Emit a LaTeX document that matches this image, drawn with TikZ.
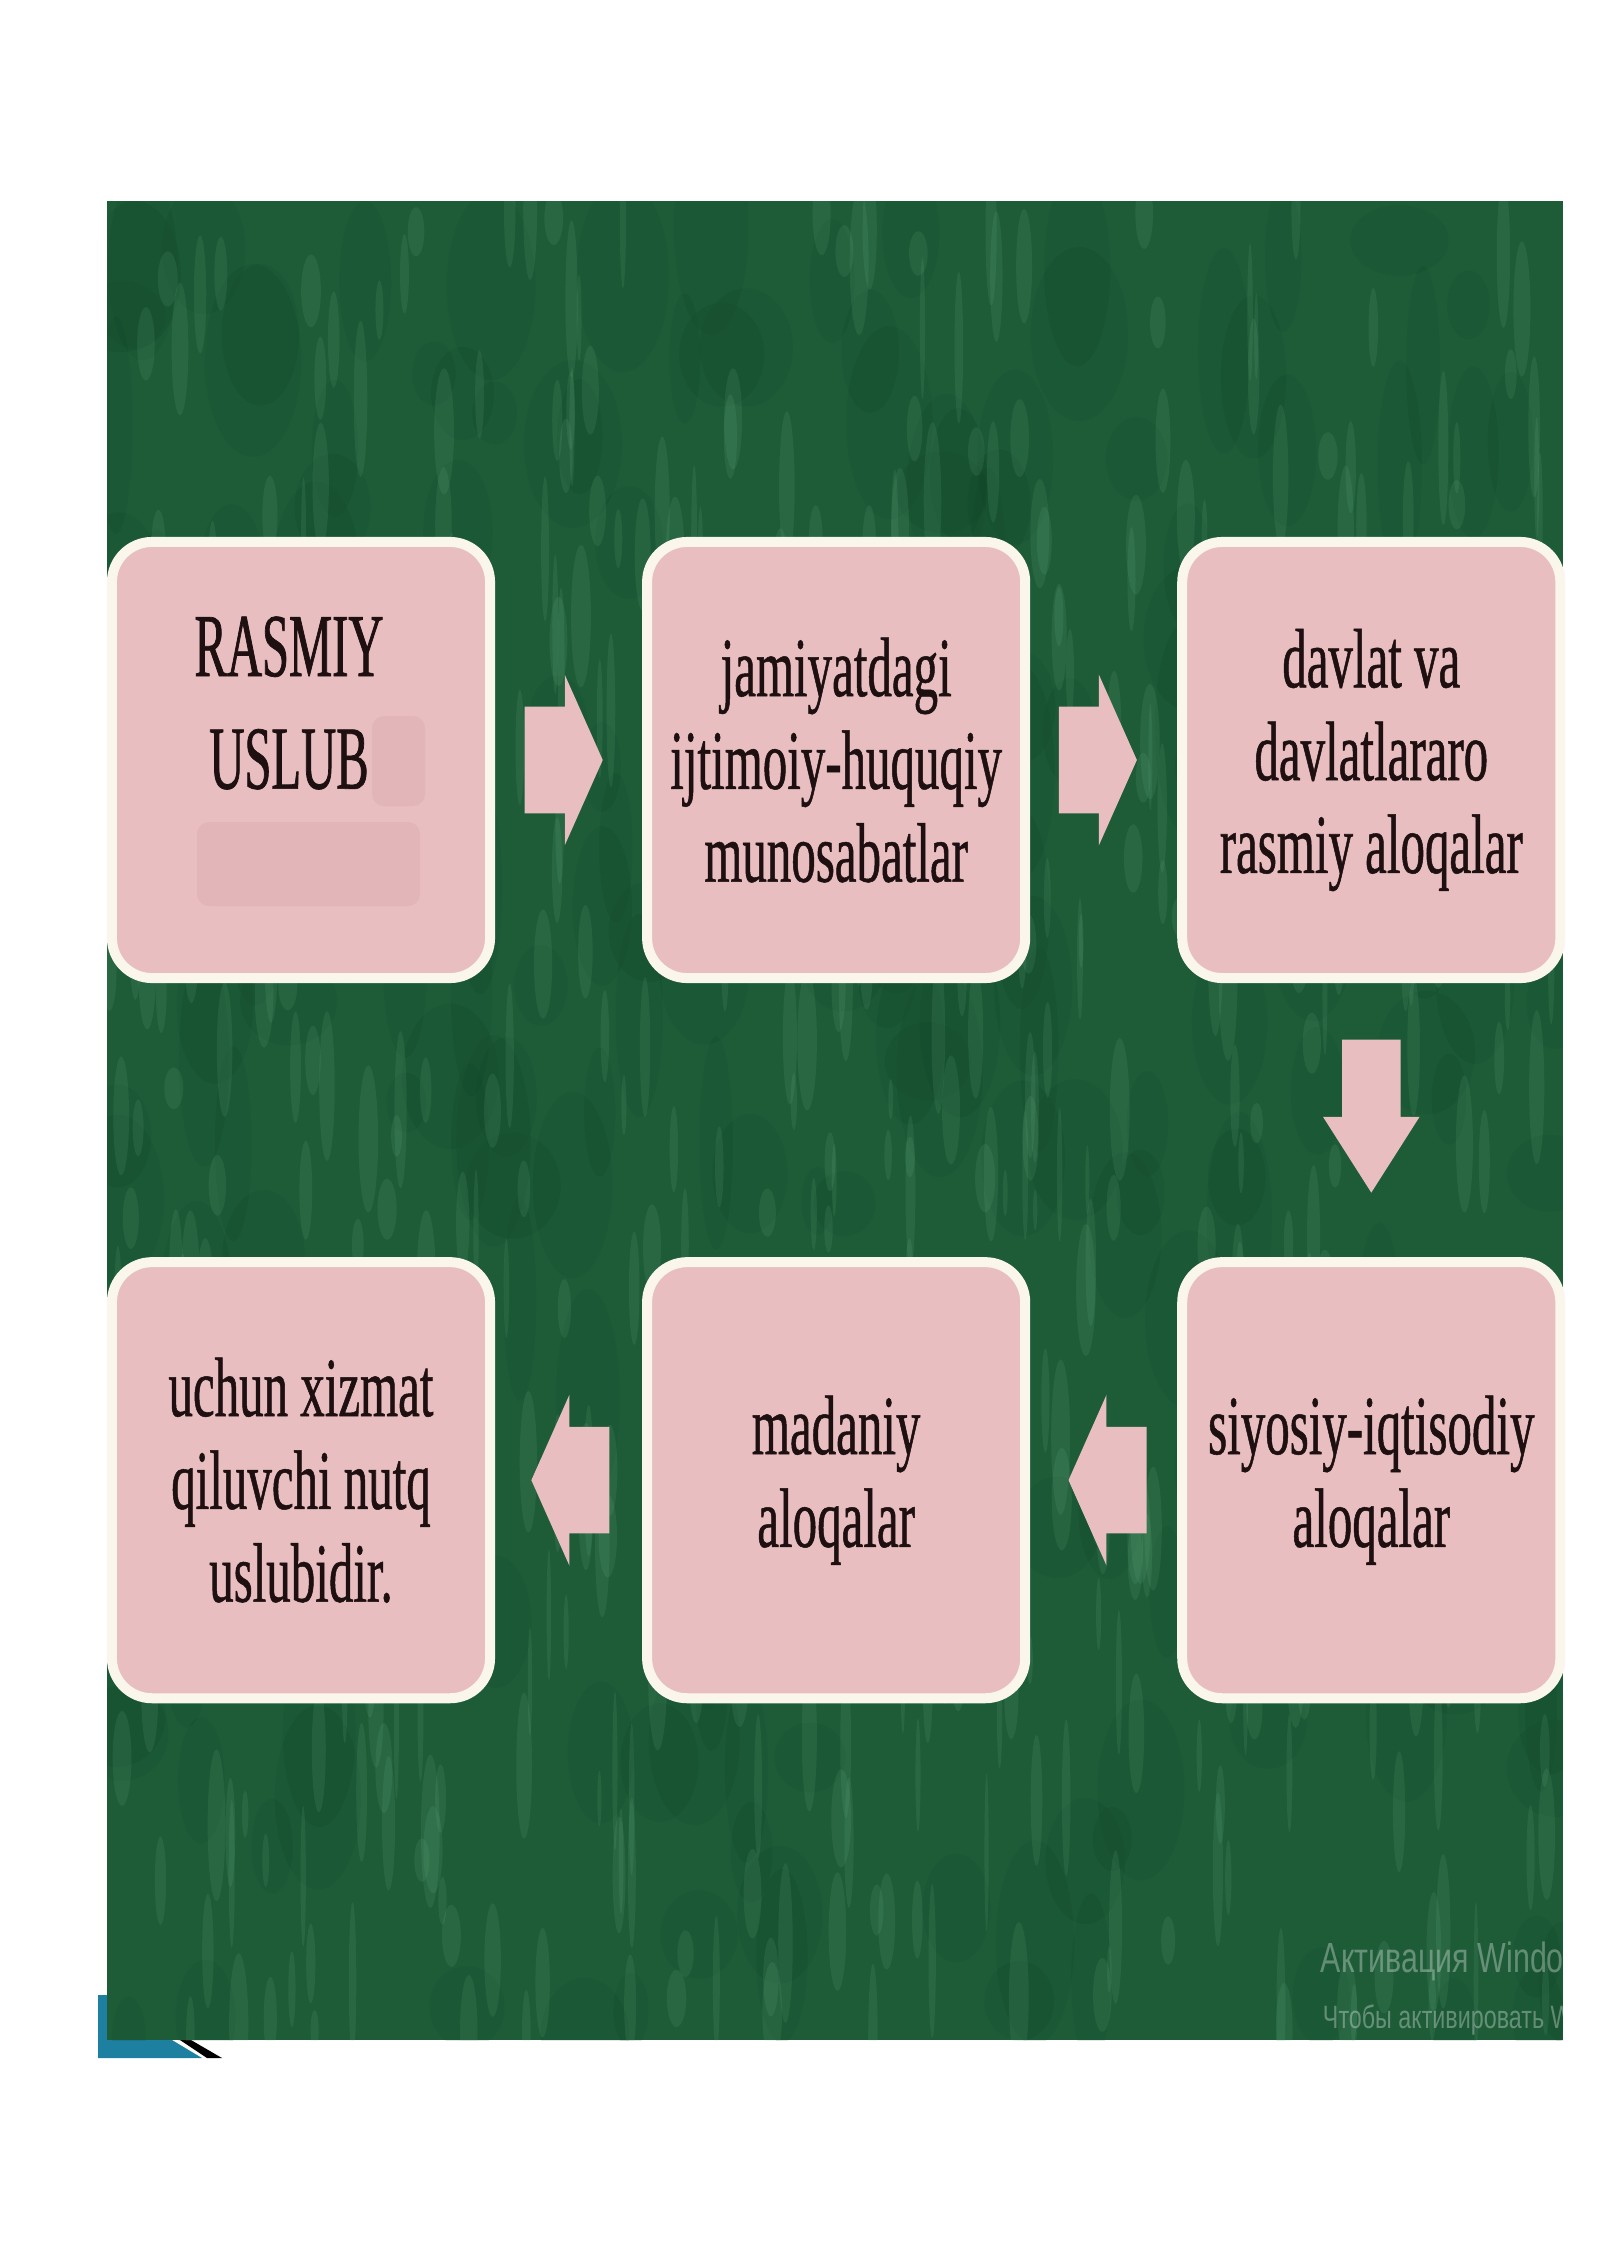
\documentclass[tikz,border=0pt]{standalone}
\usepackage{fontspec}
\setmainfont{Liberation Serif}
\newfontfamily\boxfont[FakeStretch=0.58,FakeBold=0.6]{Liberation Serif}
\newfontfamily\titlefont[FakeStretch=0.54,FakeBold=0.8]{Liberation Serif}
\newfontfamily\winfont[FakeStretch=0.72]{Liberation Sans}
\usetikzlibrary{positioning,shapes.arrows,calc}
\definecolor{bggreen}{RGB}{30,92,56}
\definecolor{mossgreen}{RGB}{120,190,145}
\definecolor{deepgreen}{RGB}{12,60,34}
\definecolor{boxpink}{RGB}{232,190,192}
\definecolor{hidpink}{RGB}{226,182,184}
\definecolor{rimwhite}{RGB}{250,246,236}
\definecolor{inkbrown}{RGB}{30,16,16}
\definecolor{slideteal}{RGB}{30,128,160}

\begin{document}
\begin{tikzpicture}[x=0.025cm, y=-0.025cm,
        node distance=6.85cm and 3.675cm,
        box/.style={
            rectangle,
            rounded corners=1cm,
            fill=boxpink,
            draw=rimwhite,
            line width=0.25cm,
            minimum width=9.45cm,
            minimum height=10.9cm,
            inner sep=0pt,
            align=center,
            text=inkbrown,
            font=\boxfont\fontsize{60}{66}\selectfont
        },
        sidearrow/.style={
            single arrow,
            fill=boxpink,
            inner xsep=0pt,
            inner ysep=1.325cm,
            minimum height=1.95cm,
            minimum width=4.25cm,
            single arrow head extend=0.8cm,
            single arrow tip angle=132,
            anchor=tip
        },
        downarrow/.style={
            single arrow,
            fill=boxpink,
            inner xsep=0pt,
            inner ysep=0.725cm,
            minimum height=3.825cm,
            minimum width=2.4cm,
            single arrow head extend=0.475cm,
            single arrow tip angle=65,
            rotate=-90,
            anchor=tip
        }
    ]
        \useasboundingbox (0,0) rectangle (1600,2262);

        % slide corner
        \fill[slideteal] (98,1995) -- (98,2058) -- (202,2058) -- (172,2040) -- (107,2040) -- (107,1995) -- cycle;
        \fill[black] (180,2040) -- (191,2040) -- (222,2058) -- (207,2058) -- cycle;

        % green background
        \begin{scope}
            \clip (107,201) rectangle (1563,2040);
            \fill[bggreen] (107,201) rectangle (1563,2040);
            \pgfmathsetseed{42}
            \foreach \i in {1,...,220}{
                \pgfmathsetmacro{\px}{107+1456*rnd}
                \pgfmathsetmacro{\py}{201+1839*rnd}
                \fill[deepgreen, opacity=0.12] (\px,\py) ellipse ({15+35*rnd} and {30+80*rnd});
            }
            \foreach \i in {1,...,500}{
                \pgfmathsetmacro{\px}{107+1456*rnd}
                \pgfmathsetmacro{\py}{201+1839*rnd}
                \fill[mossgreen, opacity=0.12] (\px,\py) ellipse ({2+8*rnd} and {20+60*rnd});
            }
            \node[anchor=base west, text=white, opacity=0.32,
                font=\winfont\fontsize{30}{30}\selectfont] (win1) at (1316,1972) {Активация Windows};
            \node[anchor=base west, text=white, opacity=0.32,
                font=\winfont\fontsize{23}{23}\selectfont] (win2) at (1318,2028) {Чтобы активировать Windows};
        \end{scope}

        % boxes
        \node (1) [box] at (301,760) {};
        \node (2) [box, right=of 1] {jamiyatdagi\\ijtimoiy-huquqiy\\munosabatlar};
        \node (3) [box, right=of 2] {davlat va\\davlatlararo\\rasmiy aloqalar};
        \node (4) [box, below=of 3] {siyosiy-iqtisodiy\\aloqalar};
        \node (5) [box, left=of 4] {madaniy\\aloqalar};
        \node (6) [box, left=of 5] {uchun xizmat\\qiluvchi nutq\\uslubidir.};

        % faint hidden line in the first box
        \fill[hidpink, rounded corners=0.3cm] (372,716) rectangle (425,806);
        \fill[hidpink, rounded corners=0.3cm] (197,822) rectangle (420,906);
        \node (title) [align=center, text=inkbrown,
            font=\titlefont\fontsize{64}{80}\selectfont] at (289,703) {RASMIY\\USLUB};

        % arrows
        \node (a12) [sidearrow] at ($(1.east)+(108,0)$) {};
        \node (a23) [sidearrow] at ($(2.east)+(107,0)$) {};
        \node (a34) [downarrow] at ($(4.north)+(0,-64)$) {};
        \node (a45) [sidearrow, rotate=180] at ($(5.east)+(38,0)$) {};
        \node (a56) [sidearrow, rotate=180] at ($(6.east)+(36,0)$) {};
    \end{tikzpicture}
\end{document}
